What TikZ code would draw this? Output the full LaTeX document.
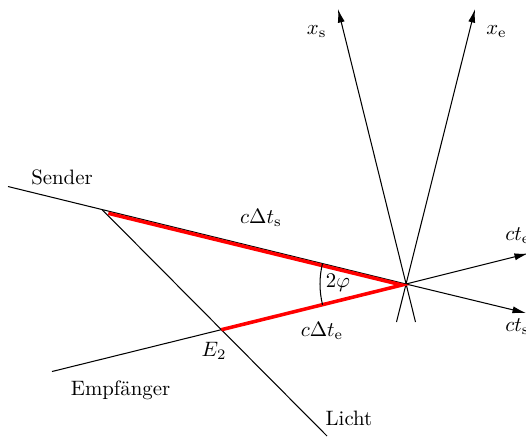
\documentclass[tikz,border=0pt]{standalone}
\usepackage{fontspec}
\usetikzlibrary{arrows.meta,calc}
\begin{document}
\begin{tikzpicture}[x=0.48pt,y=-0.48pt,
  thinline/.style={line width=0.5pt},
  axis/.style={line width=0.5pt,-{Latex[length=6.5pt,width=3.4pt]}},
  redline/.style={red,line width=1.7pt,line join=miter},
  lbl/.style={inner sep=0pt}]
\useasboundingbox (0,0) rectangle (526,436);
% events and ends
\coordinate (O) at (406,284);
\coordinate (S) at (8,186.5);
\coordinate (Ts) at (526,313);
\coordinate (R) at (52,371.5);
\coordinate (Te) at (528,253.5);
\coordinate (Xs) at (338,9);
\coordinate (Xsb) at (415.5,322);
\coordinate (Xe) at (475,9);
\coordinate (Xeb) at (396.5,322);
\coordinate (E1) at (102,209.5);
\coordinate (L) at (327,436);
\coordinate (E2) at (intersection of E1--L and R--O);
\coordinate (Rs) at (108.3,213.3);
\coordinate (Ra) at (402,285);
% lines
\draw[axis] (S) -- (O) -- (Ts);
\draw[axis] (R) -- (O) -- (Te);
\draw[axis] (Xsb) -- (Xs);
\draw[axis] (Xeb) -- (Xe);
\draw[thinline] (E1) -- (L);
\draw[redline] (Rs) -- (Ra) -- (E2);
\draw[thinline] ([shift={(194:86)}]O) arc (194:166:86);
% labels
\node[lbl] (lxs) at (316.7,31.7) {$x_{\mathrm{s}}$};
\node[lbl] (lxe) at (496.5,31.7) {$x_{\mathrm{e}}$};
\node[lbl,anchor=west] (lcte) at (505,236) {$ct_{\mathrm{e}}$};
\node[lbl,anchor=west] (lcts) at (505,327) {$ct_{\mathrm{s}}$};
\node[lbl] (lsender) at (62,177) {Sender};
\node[lbl] (lempf) at (120.5,390) {Empfänger};
\node[lbl] (llicht) at (349,418) {Licht};
\node[lbl] (lcdts) at (261,218) {$c\Delta t_{\mathrm{s}}$};
\node[lbl] (lcdte) at (322,331) {$c\Delta t_{\mathrm{e}}$};
\node[lbl] (lE2) at (214,351) {$E_2$};
\node[lbl] (lphi) at (338,283) {$2\varphi$};
\end{tikzpicture}
\end{document}
